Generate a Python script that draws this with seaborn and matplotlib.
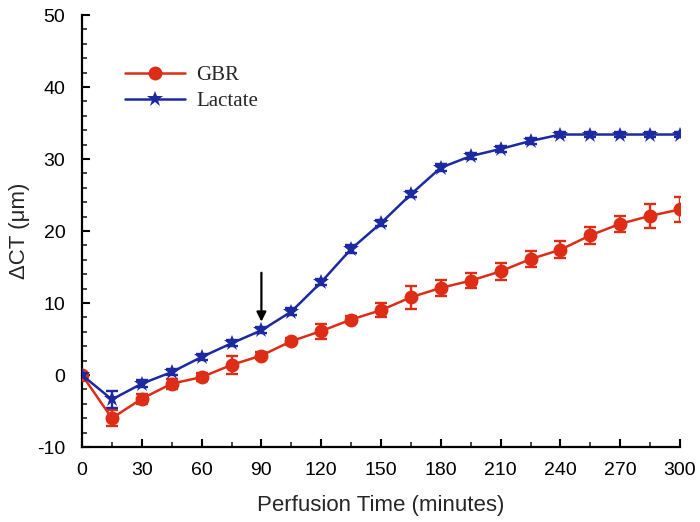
import matplotlib
matplotlib.use("Agg")
import matplotlib.pyplot as plt
import seaborn as sns
import numpy as np
import pandas as pd
from matplotlib.ticker import MultipleLocator

time_min = [0, 15, 30, 45, 60, 75, 90, 105, 120, 135, 150, 165, 180, 195, 210,
            225, 240, 255, 270, 285, 300]
gbr_mean = [0, -6.0, -3.3, -1.2, -0.3, 1.4, 2.7, 4.7, 6.1, 7.7, 9.0, 10.8, 12.1,
            13.1, 14.4, 16.1, 17.4, 19.4, 21.0, 22.1, 23.0]
gbr_err = [0.3, 1.15, 0.7, 0.7, 0.6, 1.2, 0.5, 0.5, 1.05, 0.5, 1.0, 1.6, 1.1,
           1.05, 1.2, 1.1, 1.2, 1.15, 1.1, 1.7, 1.7]
lac_mean = [0, -3.4, -1.2, 0.4, 2.5, 4.4, 6.2, 8.8, 12.9, 17.5, 21.1, 25.1, 28.8,
            30.4, 31.4, 32.5, 33.4, 33.4, 33.4, 33.4, 33.4]
lac_err = [0.3, 1.2, 0.5, 0.4, 0.4, 0.4, 0.4, 0.5, 0.4, 0.5, 0.4, 0.4, 0.5,
           0.4, 0.4, 0.4, 0.4, 0.4, 0.4, 0.4, 0.4]
series_names = ["GBR", "Lactate"]
x_label = "Perfusion Time (minutes)"
y_label = "\u0394CT (\u03bcm)"

red = "#dd2d16"
blue = "#1b2aa0"

sns.set_style("white")
plt.rcParams['font.family'] = ['Liberation Sans', 'DejaVu Sans']
plt.rcParams['axes.unicode_minus'] = False

df = pd.DataFrame({
    "time": time_min * 2,
    "value": gbr_mean + lac_mean,
    "series": [series_names[0]] * len(time_min) + [series_names[1]] * len(time_min),
})

fig = plt.figure(figsize=(7.0, 5.22), dpi=100)
ax = fig.add_axes([82 / 700, 75 / 522, 598 / 700, 432 / 522])

ax.errorbar(time_min, gbr_mean, yerr=gbr_err, fmt='none', ecolor=red,
            elinewidth=1.7, capsize=4.5, capthick=1.7, zorder=2)
ax.errorbar(time_min, lac_mean, yerr=lac_err, fmt='none', ecolor=blue,
            elinewidth=1.7, capsize=4.5, capthick=1.7, zorder=2)

sns.lineplot(data=df, x="time", y="value", hue="series", style="series",
             markers={"GBR": "o", "Lactate": "*"}, dashes=False,
             palette={"GBR": red, "Lactate": blue}, linewidth=1.8,
             markersize=10, markeredgewidth=0, ax=ax, zorder=3)
for line in ax.get_lines():
    if line.get_marker() == '*':
        line.set_markersize(12)

ax.annotate('', xy=(90, 7.4), xytext=(90, 14.2),
            arrowprops=dict(arrowstyle='-|>', color='black', lw=1.6,
                            mutation_scale=14, shrinkA=0, shrinkB=0))

ax.set_xlim(0, 300)
ax.set_ylim(-10, 50)
ax.xaxis.set_major_locator(MultipleLocator(30))
ax.xaxis.set_minor_locator(MultipleLocator(15))
ax.yaxis.set_major_locator(MultipleLocator(10))
ax.yaxis.set_minor_locator(MultipleLocator(2))
ax.tick_params(which='major', direction='in', length=6, width=1.5,
               labelsize=14, colors='black', bottom=True, left=True)
ax.tick_params(axis='x', which='major', pad=11)
ax.tick_params(axis='y', which='major', pad=12)
ax.tick_params(which='minor', direction='in', length=3.5, width=1.2,
               bottom=True, left=True)
for s in ['top', 'right']:
    ax.spines[s].set_visible(False)
for s in ['left', 'bottom']:
    ax.spines[s].set_color('black')
    ax.spines[s].set_linewidth(1.6)
ax.set_xlabel(x_label, fontsize=16, labelpad=11)
ax.set_ylabel(y_label, fontsize=16, labelpad=5)

handles, labels = ax.get_legend_handles_labels()
ax.legend(handles, labels, loc='upper left', bbox_to_anchor=(0.072, 0.883),
          frameon=False, prop={'family': 'Liberation Serif', 'size': 15},
          handlelength=2.9, handletextpad=0.5, labelspacing=0.3,
          borderpad=0, borderaxespad=0)

fig.savefig("out.png", dpi=100)
